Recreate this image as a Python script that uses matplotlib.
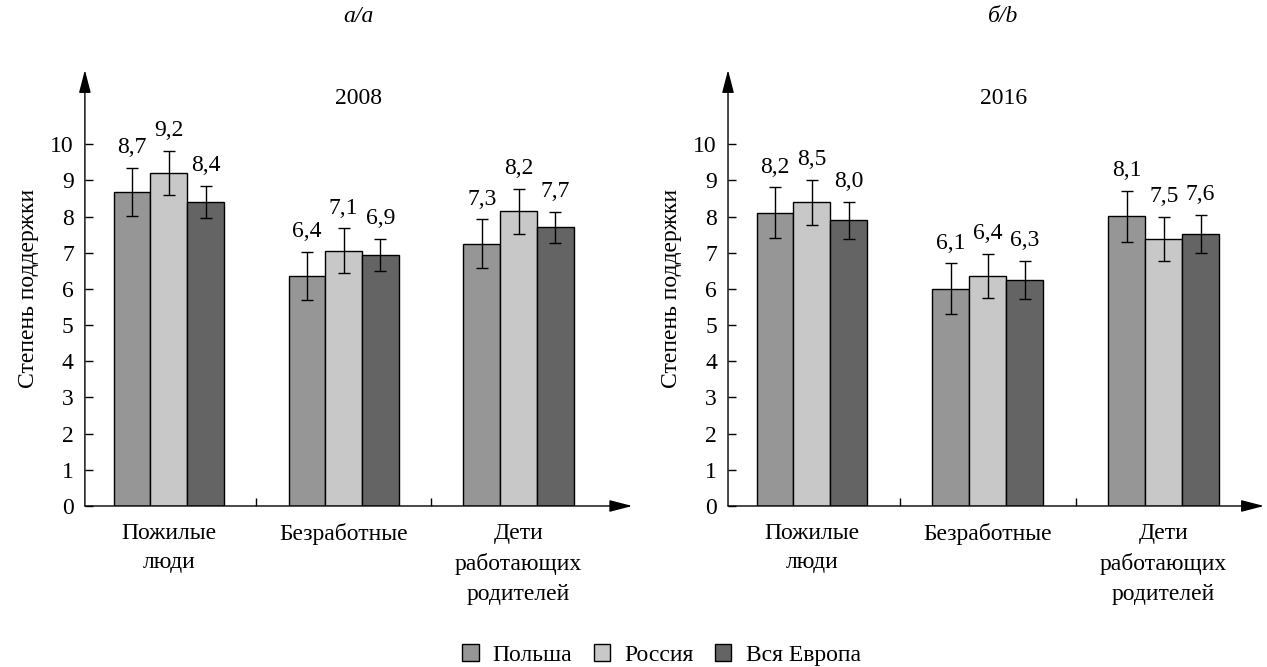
import numpy as np
import matplotlib
matplotlib.use('Agg')
import matplotlib.pyplot as plt
from matplotlib.patches import Patch

plt.rcParams['font.family'] = ['Liberation Serif', 'DejaVu Serif']
fs = 17

categories = ['Пожилые\nлюди', 'Безработные', 'Дети\nработающих\nродителей']
countries = ['Польша', 'Россия', 'Вся Европа']
colors = ['#969696', '#c8c8c8', '#646464']

# bar heights, value labels, error half-widths
heights_2008 = [[8.68, 6.35, 7.25], [9.21, 7.06, 8.15], [8.40, 6.94, 7.70]]
labels_2008 = [['8,7', '6,4', '7,3'], ['9,2', '7,1', '8,2'], ['8,4', '6,9', '7,7']]
err_2008 = [[0.67, 0.67, 0.67], [0.61, 0.61, 0.62], [0.44, 0.44, 0.43]]

heights_2016 = [[8.11, 6.01, 8.01], [8.40, 6.36, 7.39], [7.90, 6.24, 7.51]]
labels_2016 = [['8,2', '6,1', '8,1'], ['8,5', '6,4', '7,5'], ['8,0', '6,3', '7,6']]
err_2016 = [[0.70, 0.70, 0.70], [0.62, 0.61, 0.61], [0.51, 0.53, 0.53]]

panels = [
    ('а/a', '2008', heights_2008, labels_2008, err_2008, [0.067, 0.2414, 0.432, 0.6536], (-0.48, 2.65), 0.283),
    ('б/b', '2016', heights_2016, labels_2016, err_2016, [0.5746, 0.2414, 0.423, 0.6536], (-0.477, 2.57), 0.792),
]

fig = plt.figure(figsize=(12.67, 6.67), dpi=100)
w = 0.21
x = np.arange(len(categories))
arrow = dict(arrowstyle='-|>,head_length=1.0,head_width=0.26', color='black', lw=1.0,
             shrinkA=0, shrinkB=0, mutation_scale=14)

for head, year, heights, labels, errs, rect, xlim, xc in panels:
    ax = fig.add_axes(rect)
    for i in range(3):
        xs = x + (i - 1) * w
        ax.bar(xs, heights[i], width=w, color=colors[i], edgecolor='black', linewidth=1.0, zorder=2)
        ax.errorbar(xs, heights[i], yerr=errs[i], fmt='none', ecolor='black',
                    elinewidth=1.0, capsize=4.5, capthick=1.0, zorder=3)
        for xx, h, e, lab in zip(xs, heights[i], errs[i], labels[i]):
            ax.annotate(lab, (xx, h + e), xytext=(0, 7), textcoords='offset points',
                        ha='center', va='bottom', fontsize=fs)
    ax.set_xlim(*xlim)
    ax.set_ylim(0, 12.05)
    for s in ax.spines.values():
        s.set_visible(False)
    ax.annotate('', xy=(0, 1), xytext=(0, 0), xycoords='axes fraction',
                arrowprops=arrow, annotation_clip=False)
    ax.annotate('', xy=(1, 0), xytext=(0, 0), xycoords='axes fraction',
                arrowprops=arrow, annotation_clip=False)
    ax.set_yticks(range(0, 11))
    ax.tick_params(axis='y', direction='in', length=6, width=1.0, labelsize=fs, pad=8)
    ax.set_xticks(x)
    ax.set_xticklabels(categories, fontsize=fs, linespacing=1.55, va='top')
    ax.tick_params(axis='x', which='major', length=0, pad=12)
    ax.set_xticks([0.5, 1.5], minor=True)
    ax.tick_params(axis='x', which='minor', direction='in', length=6, width=1.0)
    ax.set_ylabel('Степень поддержки', fontsize=fs, labelpad=8)
    fig.text(xc, 1 - 98 / 667, year, ha='center', va='center', fontsize=fs)
    fig.text(xc, 1 - 17 / 667, head, ha='center', va='center', fontsize=fs, style='italic')

handles = [Patch(facecolor=c, edgecolor='black', linewidth=1.0) for c in colors]
fig.legend(handles, countries, loc='lower center', bbox_to_anchor=(0.522, -0.03), ncol=3,
           frameon=False, fontsize=fs, handlelength=0.7, handleheight=0.7,
           handletextpad=0.6, columnspacing=0.9)

fig.savefig('out.png', dpi=100)
